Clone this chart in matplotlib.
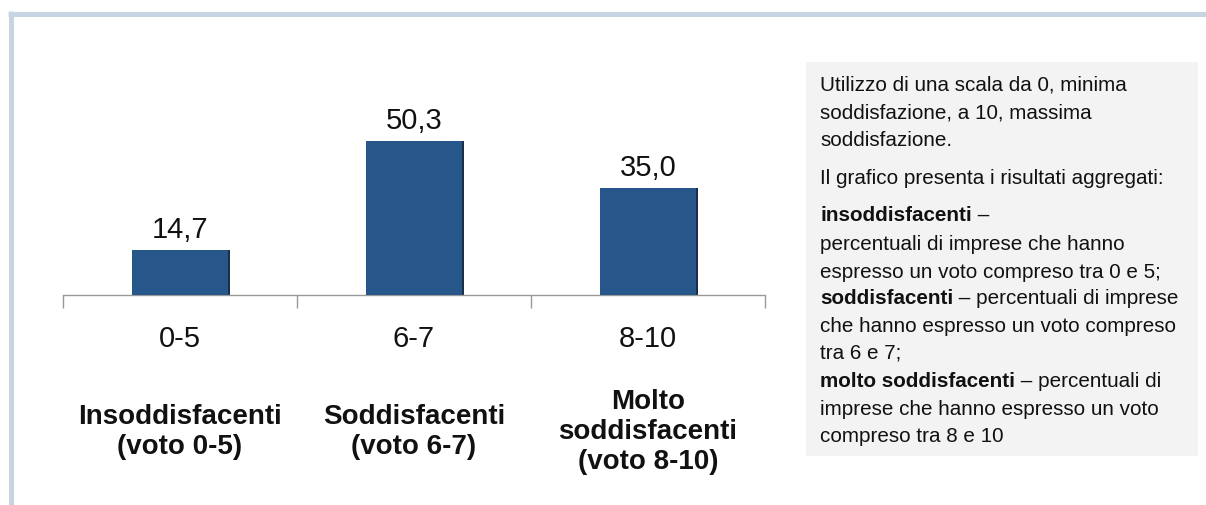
import numpy as np
import matplotlib.pyplot as plt
import matplotlib.patches as patches
from matplotlib.lines import Line2D

plt.rcParams['font.family'] = ['Liberation Sans', 'DejaVu Sans']

# dati
fasce = ['0-5', '6-7', '8-10']
valori = [14.7, 50.3, 35.0]
etichette = ['Insoddisfacenti\n(voto 0-5)', 'Soddisfacenti\n(voto 6-7)',
             'Molto\nsoddisfacenti\n(voto 8-10)']

W, H = 1206, 506
fig = plt.figure(figsize=(W / 100, H / 100), dpi=100)

def px(x, y):
    # pixel (dall'alto) -> frazione di figura
    return x / W, 1 - y / H

# cornice azzurrina
bordo = '#c6d4e4'
fig.add_artist(Line2D([8 / W, 1], [px(0, 14.5)[1]] * 2, color=bordo, lw=3.6,
                      solid_capstyle='butt'))
fig.add_artist(Line2D([11 / W] * 2, [px(0, 12)[1], 0], color=bordo, lw=3.6,
                      solid_capstyle='butt'))

# assi del grafico
x0, x1 = 63, 765
ybase, ytop = 296, 40
ax = fig.add_axes([x0 / W, 1 - ybase / H, (x1 - x0) / W, (ybase - ytop) / H])
scala = 3.06  # pixel per unita'
ax.set_xlim(-0.5, 2.5)
ax.set_ylim(0, (ybase - ytop) / scala)

x = np.arange(len(valori))
blu = '#27568b'
ax.bar(x + 0.008, valori, width=0.41, color='#1b2f48', zorder=2)
ax.bar(x, valori, width=0.41, color=blu, zorder=3)

for xi, v in zip(x, valori):
    ax.text(xi, v + 2.2, f'{v:.1f}'.replace('.', ','), ha='center', va='bottom',
            fontsize=21, color='#111111')

for s in ['top', 'right', 'left']:
    ax.spines[s].set_visible(False)
ax.spines['bottom'].set_color('#999999')
ax.spines['bottom'].set_linewidth(1)
ax.set_yticks([])
ax.set_xticks(np.arange(-0.5, 3, 1))
ax.set_xticklabels([])
ax.tick_params(axis='x', which='major', length=9, color='#999999', width=1)
ax.set_xticks(x, minor=True)
ax.set_xticklabels(fasce, minor=True, fontsize=21, color='#111111')
ax.tick_params(axis='x', which='minor', length=0, pad=21)

# etichette di categoria in grassetto
for xi, lab in zip(x, etichette):
    fx = (x0 + (xi + 0.5) * (x1 - x0) / 3) / W
    ax.text(fx, px(0, 432)[1], lab, transform=fig.transFigure, ha='center',
            va='center', fontsize=20, fontweight='bold', color='#111111',
            linespacing=1.2)

# riquadro di testo
bx0, by0, bx1, by1 = 806, 63, 1198, 457
fig.add_artist(patches.Rectangle(px(bx0, by1), (bx1 - bx0) / W, (by1 - by0) / H,
                                 transform=fig.transFigure, facecolor='#f3f3f3',
                                 edgecolor='none', zorder=0))

righe = [
    ('', 'Utilizzo di una scala da 0, minima', 85),
    ('', 'soddisfazione, a 10, massima', 113),
    ('', 'soddisfazione.', 141),
    ('', 'Il grafico presenta i risultati aggregati:', 179),
    ('insoddisfacenti', ' \u2013', 216),
    ('', 'percentuali di imprese che hanno', 245),
    ('', 'espresso un voto compreso tra 0 e 5;', 272),
    ('soddisfacenti', ' \u2013 percentuali di imprese', 298),
    ('', 'che hanno espresso un voto compreso', 327),
    ('', 'tra 6 e 7;', 353),
    ('molto soddisfacenti', ' \u2013 percentuali di', 382),
    ('', 'imprese che hanno espresso un voto', 410),
    ('', 'compreso tra 8 e 10', 437),
]
fs = 14.9
for grassetto, resto, y in righe:
    fx, fy = px(820, y)
    if grassetto:
        t = fig.text(fx, fy, grassetto, fontsize=fs, fontweight='bold',
                     color='#111111', va='center')
        plt.annotate(resto, xy=(1, 0), xycoords=t, va='bottom', ha='left',
                     fontsize=fs, color='#111111', annotation_clip=False)
    else:
        fig.text(fx, fy, resto, fontsize=fs, color='#111111', va='center')

fig.savefig('out.png', dpi=100)
